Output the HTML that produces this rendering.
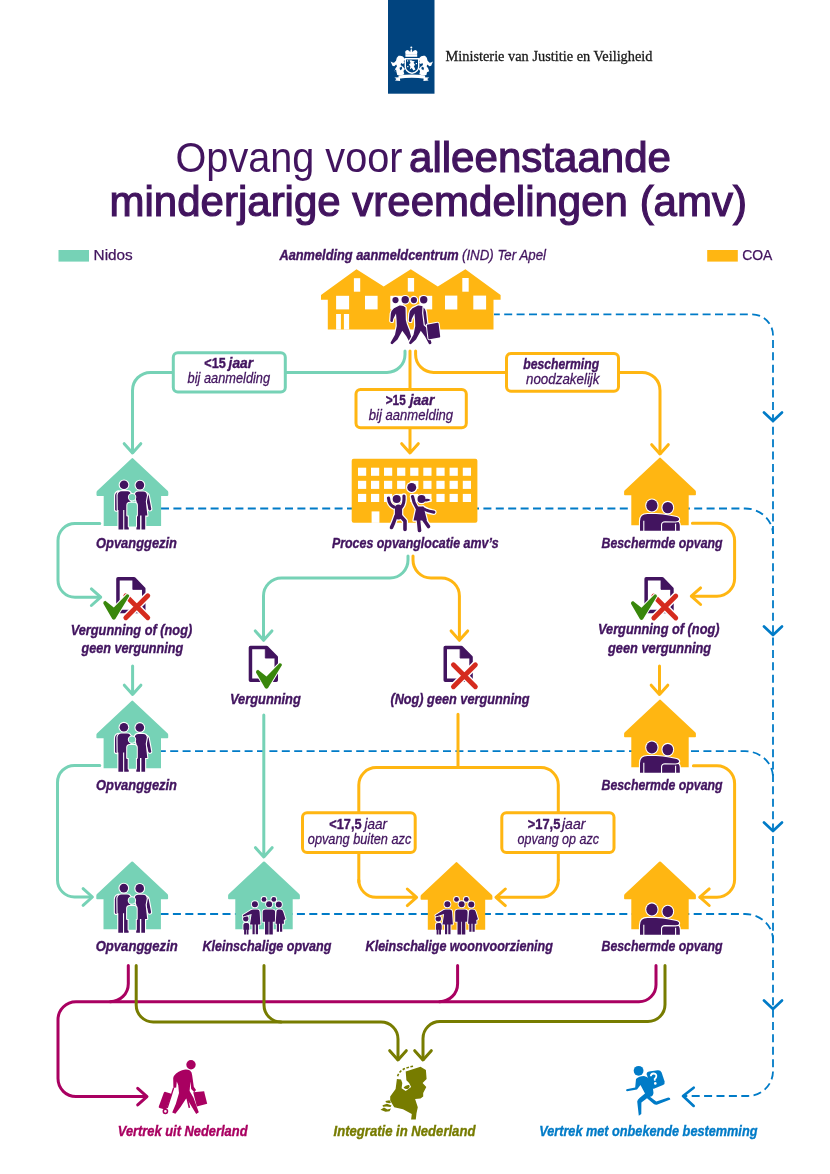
<!DOCTYPE html>
<html><head><meta charset="utf-8">
<style>
html,body{margin:0;padding:0;background:#fff;}
body{width:830px;height:1174px;overflow:hidden;}
svg{display:block;will-change:transform;}
text{font-family:"Liberation Sans",sans-serif;fill:#42145f;}
.bi{font-weight:bold;font-style:italic;font-size:15.5px;stroke:#42145f;stroke-width:0.4px;}
.it{font-style:italic;font-size:15px;stroke:#42145f;stroke-width:0.3px;}
.ln{fill:none;stroke-width:3;stroke-linecap:round;stroke-linejoin:round;}
.m{stroke:#76d2b6;}
.y{stroke:#ffb612;}
.mg{stroke:#a90061;}
.ol{stroke:#777c00;}
.ds{fill:none;stroke:#007bc7;stroke-width:1.8;stroke-dasharray:8 4.4;}
.ch{fill:none;stroke:#007bc7;stroke-width:2.7;stroke-linecap:round;stroke-linejoin:round;}
.box{fill:#fff;stroke-width:3;}
</style></head>
<body>
<svg width="830" height="1174" viewBox="0 0 830 1174">
<defs>
  <path id="house" d="M0,-0.3 Q0.4,-0.3 0.8,0.1 L35.2,32.4 Q35.9,33 35.9,34 V36.7 Q35.9,37.5 35.1,37.5 H28.7 V67.5 H-28.7 V37.5 H-35.1 Q-35.9,37.5 -35.9,36.7 V34 Q-35.9,33 -35.2,32.4 L-0.8,0.1 Q-0.4,-0.3 0,-0.3 Z"/>
</defs>

<!-- HEADER -->
<rect x="388" y="0" width="46.5" height="93.7" fill="#01447f"/>
<g id="crest" fill="#fff"></g>
<text x="445.5" y="61.1" style="font-family:'Liberation Serif',serif;font-size:15.2px;fill:#1a1a1a;stroke:#1a1a1a;stroke-width:0.3px" textLength="207" lengthAdjust="spacingAndGlyphs">Ministerie van Justitie en Veiligheid</text>

<!-- TITLE -->
<text x="175.5" y="172.3" style="font-size:42px" textLength="227" lengthAdjust="spacingAndGlyphs">Opvang voor</text>
<text x="409" y="172.4" style="font-size:42.5px;stroke:#42145f;stroke-width:1.2px" textLength="262" lengthAdjust="spacingAndGlyphs">alleenstaande</text>
<text x="109.5" y="215.6" style="font-size:42.5px;stroke:#42145f;stroke-width:1.2px" textLength="637.5" lengthAdjust="spacingAndGlyphs">minderjarige vreemdelingen (amv)</text>

<!-- LEGEND -->
<rect x="58.5" y="250" width="30.5" height="11.6" fill="#76d2b6"/>
<text x="93.6" y="260" style="font-size:14.4px;stroke:#42145f;stroke-width:0.25px" textLength="39.2" lengthAdjust="spacingAndGlyphs">Nidos</text>
<rect x="707.2" y="250" width="30.6" height="11.6" fill="#ffb612"/>
<text x="742.2" y="260" style="font-size:14.4px;stroke:#42145f;stroke-width:0.25px" textLength="30.2" lengthAdjust="spacingAndGlyphs">COA</text>
<text x="279.4" y="260" class="bi" textLength="179.3" lengthAdjust="spacingAndGlyphs">Aanmelding aanmeldcentrum</text>
<text x="462" y="260" class="it" textLength="84" lengthAdjust="spacingAndGlyphs">(IND) Ter Apel</text>

<!-- DASHED BLUE -->
<path class="ds" style="stroke-dashoffset:2.2" d="M494,314.3 H752 A21,21 0 0 1 773,335.3 V1071 A25,25 0 0 1 748,1096 H684"/>
<path class="ds" d="M161,508.5 H745 A28,26 0 0 1 773,534"/>
<path class="ds" style="stroke-dashoffset:2.7" d="M160.5,751.2 H745 A28,26 0 0 1 773,777"/>
<path class="ds" d="M160.5,914 H745 A28,26 0 0 1 773,940"/>
<path class="ch" d="M764,412.5 L773,421 L782,412.5"/>
<path class="ch" d="M764,626.5 L773,635 L782,626.5"/>
<path class="ch" d="M764,822.5 L773,831 L782,822.5"/>
<path class="ch" d="M764,1000.5 L773,1009 L782,1000.5"/>
<path class="ch" d="M693.7,1087.7 L683,1096 L693.7,1105.9"/>

<!-- MINT LINES -->
<path class="ln m" d="M405,351 V354.4 A18,18 0 0 1 387,372.4 H150.5 A18,18 0 0 0 132.5,390.4 V452"/>
<path class="ln m" d="M124.2,443.7 L132.5,453 L140.8,443.7"/>
<path class="ln m" d="M99.8,523.5 H75 A17,17 0 0 0 58,540.5 V580.2 A17,17 0 0 0 75,597.2 H100"/>
<path class="ln m" d="M91.4,588.9 L100.7,597.2 L91.4,605.5"/>
<path class="ln m" d="M132.6,666 V694 M124.3,685.2 L132.6,694.5 L140.9,685.2"/>
<path class="ln m" d="M99.8,765.4 H75 A17,17 0 0 0 57.5,782.4 V880 A17,17 0 0 0 74.5,897 H91.5"/>
<path class="ln m" d="M83.1,888.7 L92.4,897 L83.1,905.3"/>
<path class="ln m" d="M408,556 V560 A18,18 0 0 1 390,578 H281.5 A18,18 0 0 0 263.5,596 V639.5"/>
<path class="ln m" d="M255.3,630.9 L263.6,640.3 L271.9,630.9"/>
<path class="ln m" d="M263.8,715 V856.5 M255.5,847.7 L263.8,857 L272.1,847.7"/>

<!-- YELLOW LINES -->
<path class="ln y" d="M410,351 V452 M401.7,443.7 L410,453 L418.3,443.7"/>
<path class="ln y" d="M415.6,351 V354.4 A18,18 0 0 0 433.6,372.4 H642 A18,18 0 0 1 660,390.4 V453.5"/>
<path class="ln y" d="M651.7,444.7 L660,454 L668.3,444.7"/>
<path class="ln y" d="M692.4,523.2 H717 A17.6,17.6 0 0 1 734.6,540.8 V578.6 A17.6,17.6 0 0 1 717,596.2 H692"/>
<path class="ln y" d="M700.6,587.9 L691.3,596.2 L700.6,604.5"/>
<path class="ln y" d="M413,556 V560 A18,18 0 0 0 431,578 H441.4 A18,18 0 0 1 459.4,596 V639.5"/>
<path class="ln y" d="M451.1,630.9 L459.4,640.3 L467.7,630.9"/>
<path class="ln y" d="M659.5,666 V694 M651.2,685.2 L659.5,694.5 L667.8,685.2"/>
<path class="ln y" d="M693.4,765.8 H717 A17.6,17.6 0 0 1 734.6,783.4 V879.6 A17.6,17.6 0 0 1 717,897.2 H700"/>
<path class="ln y" d="M709.2,888.9 L699.9,897.2 L709.2,905.5"/>
<path class="ln y" d="M458,714.3 V767.6 M358.8,882 V785 A17.4,17.4 0 0 1 376.2,767.6 H540.9 A17.4,17.4 0 0 1 558.3,785 V880"/>
<path class="ln y" d="M358.8,880 A17.3,17.3 0 0 0 376.1,897.3 H415.6 M407.3,889 L416.6,897.3 L407.3,905.6"/>
<path class="ln y" d="M558.3,880 A17.3,17.3 0 0 1 541,897.3 H497 M505.3,889 L496,897.3 L505.3,905.6"/>

<!-- MAGENTA / OLIVE -->
<path class="ln mg" d="M128.3,965.5 V983.7 A18,18 0 0 1 110.3,1001.7 H76 A18,18 0 0 0 58,1019.7 V1078.6 A18,18 0 0 0 76,1096.6 H146"/>
<path class="ln mg" d="M137.7,1088.3 L147,1096.6 L137.7,1104.9"/>
<path class="ln mg" d="M110.3,1001.7 H639 A17,17 0 0 0 656,984.7 V965.5"/>
<path class="ln mg" d="M457.6,965.5 V983.7 A18,18 0 0 1 439.6,1001.7"/>
<path class="ln ol" d="M136.2,965.5 V1005 A17,17 0 0 0 153.2,1022 H381 A17,17 0 0 1 398,1039 V1059.5"/>
<path class="ln ol" d="M264,965.5 V1005 A17,17 0 0 0 281,1022"/>
<path class="ln ol" d="M665,965.5 V1004.5 A17,17 0 0 1 648,1021.5 H440 A17,17 0 0 0 423,1038.5 V1059.5"/>
<path class="ln ol" d="M389.7,1050.7 L398,1060 L406.3,1050.7 M414.7,1050.7 L423,1060 L431.3,1050.7"/>

<!-- BOXES -->
<rect class="box" stroke="#76d2b6" x="173.3" y="352.8" width="112" height="39.3" rx="4.5"/>
<rect class="box" stroke="#ffb612" x="356" y="389.4" width="110.3" height="38.4" rx="4.5"/>
<rect class="box" stroke="#ffb612" x="506.5" y="353.5" width="112" height="37.7" rx="4.5"/>
<rect class="box" stroke="#ffb612" x="302.5" y="812.8" width="112.7" height="39.7" rx="4.5"/>
<rect class="box" stroke="#ffb612" x="501.8" y="812.8" width="112.2" height="39.7" rx="4.5"/>

<text x="204.3" y="368.3" style="font-size:15px;font-weight:bold;stroke:#42145f;stroke-width:0.4px" textLength="21.5" lengthAdjust="spacingAndGlyphs">&lt;15</text>
<text x="228.6" y="368.3" class="bi" textLength="24.5" lengthAdjust="spacingAndGlyphs">jaar</text>
<text x="187.6" y="383.3" class="it" textLength="82.5" lengthAdjust="spacingAndGlyphs">bij aanmelding</text>
<text x="385.7" y="404.5" style="font-size:15px;font-weight:bold;stroke:#42145f;stroke-width:0.4px" textLength="20" lengthAdjust="spacingAndGlyphs">&gt;15</text>
<text x="409.8" y="404.5" class="bi" textLength="24.5" lengthAdjust="spacingAndGlyphs">jaar</text>
<text x="368.8" y="419.5" class="it" textLength="84.3" lengthAdjust="spacingAndGlyphs">bij aanmelding</text>
<text x="523.3" y="368.5" class="bi" textLength="75.8" lengthAdjust="spacingAndGlyphs">bescherming</text>
<text x="526" y="384.3" class="it" textLength="73.5" lengthAdjust="spacingAndGlyphs">noodzakelijk</text>

<text x="329.3" y="829.1" style="font-size:15px;font-weight:bold;stroke:#42145f;stroke-width:0.4px" textLength="32.2" lengthAdjust="spacingAndGlyphs">&lt;17,5</text>
<text x="364.5" y="829.1" class="it" textLength="22.6" lengthAdjust="spacingAndGlyphs">jaar</text>
<text x="307.8" y="843.6" class="it" textLength="103.5" lengthAdjust="spacingAndGlyphs">opvang buiten azc</text>
<text x="527.8" y="829.1" style="font-size:15px;font-weight:bold;stroke:#42145f;stroke-width:0.4px" textLength="32.5" lengthAdjust="spacingAndGlyphs">&gt;17,5</text>
<text x="562" y="829.1" class="it" textLength="23.4" lengthAdjust="spacingAndGlyphs">jaar</text>
<text x="517.6" y="843.6" class="it" textLength="81.3" lengthAdjust="spacingAndGlyphs">opvang op azc</text>

<!-- TOP HOUSES -->
<path fill="#ffb612" d="M321,295 L356.5,269.3 L383.7,286.5 L410.8,269.3 L437.8,286.5 L465.4,269.3 L500.6,295 V299.7 H493.5 V329.4 H327.8 V299.7 H321 Z"/>

<!-- ROW HOUSES -->
<use href="#house" x="132.4" y="458.4" fill="#76d2b6"/>
<use href="#house" x="660" y="457.8" fill="#ffb612"/>
<rect x="351.7" y="458.7" width="125.7" height="64.1" rx="2" fill="#ffb612"/>
<use href="#house" x="132.3" y="700.8" fill="#76d2b6"/>
<use href="#house" x="660" y="699.8" fill="#ffb612"/>
<use href="#house" x="132.2" y="861.7" fill="#76d2b6"/>
<use href="#house" x="264" y="861.7" fill="#76d2b6"/>
<use href="#house" x="456.5" y="862.3" fill="#ffb612"/>
<use href="#house" x="660" y="861.7" fill="#ffb612"/>


<!-- TOP HOUSE WINDOWS -->
<g fill="#fff">
  <rect x="353.9" y="278.2" width="6.3" height="13.5"/>
  <rect x="407.8" y="278" width="6.3" height="13.6"/>
  <rect x="462.3" y="278" width="6.4" height="13.7"/>
  <rect x="336.1" y="295.8" width="13" height="13.6"/>
  <rect x="365" y="295.8" width="12.6" height="13.6"/>
  <rect x="390.3" y="295.8" width="12.8" height="13.6"/>
  <rect x="419.4" y="295.8" width="12.8" height="13.6"/>
  <rect x="445" y="295.6" width="12.3" height="13.9"/>
  <rect x="473.3" y="295.6" width="12.8" height="13.9"/>
  <rect x="336.1" y="314" width="4.8" height="15.6"/>
  <rect x="343.9" y="314" width="5.2" height="15.6"/>
</g>
<!-- WALKERS -->
<defs>
 <path id="wk" d="M399.5,305.5 Q403.5,305.2 405.5,307.5 L405.8,320 L406.8,324 L409.5,331 L413,343 Q412,344.8 410.5,344 L406.5,336.5 L402.3,330.8 L397.5,339.5 L392.3,344.3 Q390.3,344 390.6,342.6 L395,334.8 L396.8,326 L396.6,320.4 L396,313.5 L393.2,319 L392.7,321.8 Q390.6,322.2 390.3,321 L390.8,313.8 Q391.5,310 394,308.2 Z"/>
</defs>
<g fill="#42145f" stroke="#fff" stroke-width="2.4" paint-order="stroke" stroke-linejoin="round">
 <circle cx="395.5" cy="300.1" r="3.1"/><circle cx="413.9" cy="300.1" r="3.1"/>
 <circle cx="405.2" cy="299.8" r="3.7"/><circle cx="423.7" cy="299.8" r="3.7"/>
 <use href="#wk"/>
 <g transform="translate(18.5,0)"><use href="#wk"/></g>
 <path d="M423.6,307.5 Q425.5,309 426,312 L427.3,323.5 L429,325.2 L427,326.5 L424.8,324.5 L423.3,313 Z"/>
 <path d="M426.8,324.8 L437.4,322.8 Q438.4,322.7 438.6,323.7 L440.2,336.4 Q440.3,337.4 439.3,337.6 L429.6,339.3 Q428.6,339.4 428.4,338.4 Z" stroke-width="2"/>
</g>

<!-- FAMILY ICON -->
<defs>
 <g id="family">
  <g fill="#42145f" stroke="#fff" stroke-width="2.2" paint-order="stroke" stroke-linejoin="round">
   <circle cx="-8.4" cy="26.4" r="4.3"/>
   <circle cx="7.5" cy="26.7" r="4.3"/>
   <path d="M-17.3,37.5 Q-17.2,34 -14,33 L-13.4,51 Q-13.5,52.3 -15.4,52.3 Q-17.3,52.3 -17.3,51 Z"/>
   <path d="M-14.8,36.5 Q-14.2,32.8 -10.8,32.8 H-5 Q-1.8,33 -1.4,36.2 L-2.3,51.6 H-3.6 V71 H-8.1 V51.6 H-9.2 V71 H-13.9 V51.6 H-14.6 Z"/>
   <path d="M13.5,35 Q15.8,34.6 16.5,37.8 L18.9,50.4 Q19,52 17.4,52 Q16.3,52 16,50.8 L13.4,40 Z"/>
   <path d="M2.3,37 Q2.6,33.2 6.3,33.1 H10.8 Q14.3,33.3 14.6,36.8 L13.4,43 L15,57.2 H12.8 V71 H9.1 V57.2 H7.7 V71 H4 V57.2 H2.6 L4.2,43 Z"/>
  </g>
  <g fill="#76d2b6" stroke="#fff" stroke-width="2" paint-order="stroke" stroke-linejoin="round">
   <circle cx="-0.3" cy="38.8" r="3.2"/>
   <path d="M-5.1,46.8 Q-5.1,44.3 -2.6,44.3 H2.3 Q4.5,44.3 4.5,46.8 V57.2 H3.6 V68 H-3.6 V57.2 H-5.1 Z"/>
  </g>
 </g>
 <g id="hug">
  <g fill="#42145f" stroke="#fff" stroke-width="2.2" paint-order="stroke" stroke-linejoin="round">
   <ellipse cx="-8.1" cy="47.7" rx="5.6" ry="6"/>
   <ellipse cx="7.8" cy="49.8" rx="5.3" ry="5.7"/>
   <path d="M1,73 V67 Q1,63.2 5,63.2 H15.5 Q19.8,63.4 19.8,68 V73 Z"/>
   <path d="M-20,73 V63.5 Q-20,56.2 -12.5,56.2 H-4 Q3,56.4 9,57.8 L16.5,59.3 Q19.6,60.2 19,62.3 Q18.3,63.6 15.5,63.6 L5,63.4 Q1.2,63.6 1,67 V73 Z"/>
  </g>
  <path d="M-16.2,63 V73.5 M15.6,66 V73.5" stroke="#fff" stroke-width="1.1"/>
 </g>
 <g id="group">
  <g fill="#42145f" stroke="#fff" stroke-width="1.8" paint-order="stroke" stroke-linejoin="round">
   <circle cx="0" cy="37.7" r="2.4"/><circle cx="9.8" cy="37.7" r="2.4"/>
   <circle cx="-18.2" cy="57" r="2.7"/>
   <path d="M-20.6,63.3 Q-20.6,61.3 -18.5,61.3 H-16.8 Q-14.8,61.3 -14.8,63.3 V68.1 H-15.5 V72.8 H-17.4 V68.1 H-18 V72.8 H-19.9 V68.1 H-20.6 Z"/>
   <circle cx="-9.1" cy="42.5" r="3"/>
   <path d="M-11,47.9 H-6.5 Q-4.7,47.9 -4.4,50 L-3.6,62.7 H-6 V72.5 H-8.2 V62.7 H-9.3 V72.5 H-11.5 V62.7 H-14 L-12.4,52.2 L-20.6,54.8 Q-21.6,54 -20.8,53.3 L-12.8,48.4 Z"/>
   <circle cx="5.1" cy="42.5" r="3"/>
   <path d="M-1.3,50.5 Q-1.3,47.9 1.5,47.9 H8.3 Q11.1,47.9 11.1,50.5 V60 H8.8 V72.8 H5.3 V60 H4.6 V72.8 H1 V60 H-1.3 Z"/>
   <circle cx="14.8" cy="42.8" r="3"/>
   <path d="M12.5,50 Q12.5,47.9 14.5,47.9 H16.5 Q18.6,47.9 19.2,50 L21.5,57.6 L19.8,58.2 L20,62 H18.2 V70.1 H16 V62 H15 V70.1 H12.8 V62 H11.5 Z"/>
  </g>
 </g>
 <g id="doc">
  <path d="M1.75,34.45 V1.75 H17.9 L27.55,11.6 V34.45 Z" fill="none" stroke="#42145f" stroke-width="3.5" stroke-linejoin="round"/>
  <path d="M16.6,1.5 V12.4 H28 Z" fill="#42145f" stroke="#42145f" stroke-width="0.8" stroke-linejoin="round"/>
 </g>
 <g id="check">
  <path d="M0,9.7 Q-0.5,7.7 2,7 L10.5,13.7 L23.5,0.4 Q25.8,0 26,2.2 L12,25.2 Q10.5,26.7 9,25.2 Z" fill="#39870c" stroke="#fff" stroke-width="2" paint-order="stroke" stroke-linejoin="round"/>
 </g>
 <g id="cross">
  <path d="M-11,-11 L11,11 M11,-11 L-11,11" stroke="#fff" stroke-width="7.6" stroke-linecap="round"/>
  <path d="M-11,-11 L11,11 M11,-11 L-11,11" stroke="#d52b1e" stroke-width="4.8" stroke-linecap="round"/>
 </g>
</defs>

<use href="#family" x="132.4" y="458.4"/>
<use href="#family" x="132.3" y="700.8"/>
<use href="#family" x="132.2" y="861.7"/>
<use href="#hug" x="660" y="457.8"/>
<use href="#hug" x="660" y="699.8"/>
<use href="#hug" x="660" y="861.7"/>
<use href="#group" x="264" y="861.7"/>
<use href="#group" x="456.5" y="861.7"/>

<!-- BUILDING WINDOWS -->
<g fill="#fff">
 <rect x="358" y="467.7" width="8.2" height="8.1"/><rect x="371" y="467.7" width="8.2" height="8.1"/><rect x="384" y="467.7" width="8.2" height="8.1"/><rect x="397.1" y="467.7" width="8.2" height="8.1"/><rect x="410.2" y="467.7" width="8.2" height="8.1"/><rect x="423.3" y="467.7" width="8.2" height="8.1"/><rect x="436.4" y="467.7" width="8.2" height="8.1"/><rect x="449.6" y="467.7" width="8.2" height="8.1"/><rect x="462.8" y="467.7" width="8.2" height="8.1"/>
 <rect x="358" y="480.8" width="8.2" height="8.1"/><rect x="371" y="480.8" width="8.2" height="8.1"/><rect x="384" y="480.8" width="8.2" height="8.1"/><rect x="397.1" y="480.8" width="8.2" height="8.1"/><rect x="410.2" y="480.8" width="8.2" height="8.1"/><rect x="423.3" y="480.8" width="8.2" height="8.1"/><rect x="436.4" y="480.8" width="8.2" height="8.1"/><rect x="449.6" y="480.8" width="8.2" height="8.1"/><rect x="462.8" y="480.8" width="8.2" height="8.1"/>
 <rect x="358" y="493.9" width="8.2" height="8.1"/><rect x="371" y="493.9" width="8.2" height="8.1"/><rect x="384" y="493.9" width="8.2" height="8.1"/><rect x="397.1" y="493.9" width="8.2" height="8.1"/><rect x="410.2" y="493.9" width="8.2" height="8.1"/><rect x="423.3" y="493.9" width="8.2" height="8.1"/><rect x="436.4" y="493.9" width="8.2" height="8.1"/><rect x="449.6" y="493.9" width="8.2" height="8.1"/><rect x="462.8" y="493.9" width="8.2" height="8.1"/>
 <rect x="371.6" y="511.4" width="7.8" height="11.5"/>
</g>
<!-- KIDS -->
<g>
 <g stroke="#fff" fill="none" stroke-linecap="round" stroke-linejoin="round">
  <circle cx="411.7" cy="487.4" r="4.5" stroke-width="2.4"/>
  <circle cx="396.7" cy="499" r="4" stroke-width="2.4"/>
  <circle cx="421.5" cy="499" r="4" stroke-width="2.4"/>
  <path d="M394,507 Q389,505 388.5,498" stroke-width="5.6"/>
  <path d="M401.5,507 Q404.5,504 404,496" stroke-width="5.6"/>
  <path d="M398.5,508 V516" stroke-width="9.6"/>
  <path d="M396,516 L393.5,523 L391.5,527.5" stroke-width="6"/>
  <path d="M400.5,516 L405,521 L405,529.5" stroke-width="6"/>
  <path d="M417,508 Q413.5,503 412.5,496.5" stroke-width="5.6"/>
  <path d="M423,508.5 Q428,511.5 433.8,512.2" stroke-width="5.6"/>
  <path d="M418.5,520 L419.5,530.5" stroke-width="6"/>
  <path d="M424,520 L428.5,526.5" stroke-width="6"/>
  <path d="M416.5,506.5 H423.5 L427,520.6 H413.5 Z" stroke-width="2.4"/>
  <path d="M424.5,499.2 Q428,498.2 430.6,500 Q428,502 424.5,501.2 Z" stroke-width="2.4"/>
 </g>
 <g fill="#42145f"><circle cx="411.7" cy="487.4" r="4.5"/><circle cx="396.7" cy="499" r="4"/><circle cx="421.5" cy="499" r="4"/>
  <path d="M416.5,506.5 H423.5 L427,520.6 H413.5 Z"/><path d="M424.5,499.2 Q428,498.2 430.6,500 Q428,502 424.5,501.2 Z"/></g>
 <g stroke="#42145f" fill="none" stroke-linecap="round" stroke-linejoin="round">
  <path d="M394,507 Q389,505 388.5,498" stroke-width="3.2"/>
  <path d="M401.5,507 Q404.5,504 404,496" stroke-width="3.2"/>
  <path d="M398.5,508 V516" stroke-width="7.2"/>
  <path d="M396,516 L393.5,523 L391.5,527.5" stroke-width="3.6"/>
  <path d="M400.5,516 L405,521 L405,529.5" stroke-width="3.6"/>
  <path d="M417,508 Q413.5,503 412.5,496.5" stroke-width="3.2"/>
  <path d="M423,508.5 Q428,511.5 433.8,512.2" stroke-width="3.2"/>
  <path d="M418.5,520 L419.5,530.5" stroke-width="3.6"/>
  <path d="M424,520 L428.5,526.5" stroke-width="3.6"/>
 </g>
</g>

<!-- DOCS -->
<use href="#doc" x="116.2" y="577"/>
<use href="#cross" x="136.8" y="606.8"/>
<use href="#check" x="103.3" y="593.8"/>
<use href="#doc" x="248.7" y="645.7"/>
<use href="#check" x="256" y="662.8"/>
<use href="#doc" x="443.5" y="645.7"/>
<use href="#cross" x="464.4" y="675.7"/>
<use href="#doc" x="644.4" y="577"/>
<use href="#cross" x="664.8" y="607"/>
<use href="#check" x="631" y="594"/>
<!-- TRAVELER -->
<g fill="#a90061">
 <circle cx="191" cy="1064.7" r="4.7"/>
 <path d="M182,1070.2 Q186.8,1068.8 190,1070.6 Q192,1072 192.2,1075.5 L193.8,1086.8 L196,1090 L194.3,1092.2 L191.2,1089 L190.4,1081.5 L189.6,1091 Q192,1095 193.6,1098 L198.8,1112.2 L196.2,1114 L188.6,1101.5 L186.3,1098.2 L180.6,1107 L175.4,1113.8 L172.2,1112.6 L175.8,1104 L179,1093 L178.2,1085 L176.8,1081.6 L176.2,1087.4 L173.4,1088 L173.2,1078 Q174.6,1072.6 182,1070.2 Z"/>
 <path d="M186.2,1097.5 L188.6,1108 L190.2,1107.7 L188.2,1099 Z"/>
 <path d="M158.8,1106.5 L163.8,1092.8 Q164.3,1091.6 165.6,1091.9 L170.6,1093.6 Q171.8,1094 171.4,1095.3 L166.5,1108.8 Q166,1110 164.8,1109.6 L159.6,1108 Q158.4,1107.6 158.8,1106.5 Z"/>
 <path d="M193.2,1092.2 L204.1,1091.2 L207.2,1103.7 L196.8,1106.6 Z"/>
</g>
<path d="M173.6,1088 L167.2,1108" stroke="#a90061" stroke-width="1.3"/>
<circle cx="165.4" cy="1111.3" r="2.1" fill="#fff" stroke="#a90061" stroke-width="1.5"/>

<!-- NL MAP -->
<g fill="#777c00">
 <path d="M405.7,1071.5 L420.5,1066.7 L425.9,1070.1 L426.6,1078.9 L422.6,1082.9 L426.3,1087 L423.2,1093.1 L423.2,1096.4 L420.5,1098.5 L415.1,1099.1 L417.8,1107.2 L416.5,1113.3 L415.8,1119.4 L411.1,1119.4 L411.8,1114 L403,1109.3 L394.2,1107.2 L390.2,1100.5 L390.2,1096.4 L395.6,1089 L396.9,1078.9 L401,1079.6 L402.3,1082.9 L401.6,1088.3 L405.7,1091 L411.1,1087 L409.1,1082.9 L406.4,1080.2 Z"/>
 <path d="M403.5,1087.5 Q406,1084.5 409,1085 Q410.5,1086.5 408.5,1088.6 Q405.5,1090 403.5,1087.5 Z"/>
 <path d="M380.5,1109.8 L384,1107.5 L387.5,1109.5 L391,1108.5 L389.5,1111.3 L385.5,1111.8 Z"/>
 <path d="M382.5,1105.2 L387,1103.8 L391.5,1105.5 L390.5,1107 L386.5,1106.5 L383,1106.8 Z"/>
 <path d="M385.5,1101 L389.5,1100.2 L391,1102.5 L389.5,1103.3 L386,1102.5 Z"/>
</g>
<path d="M397.6,1076.2 Q400,1068 414.5,1066.1" fill="none" stroke="#777c00" stroke-width="1.6" stroke-dasharray="2.6 1.6"/>

<!-- RUNNER -->
<g fill="#007bc7">
 <circle cx="638.6" cy="1070.8" r="4.9"/>
 <path d="M646.5,1074 Q646.8,1072 649,1071.6 L657.5,1070.2 Q660.5,1069.8 661.6,1072.6 L664.6,1081.4 Q665.2,1083.8 663,1085 L654.5,1088.6 Q652.4,1089.4 651.4,1087.4 Z"/>
 <path d="M636,1079 Q639,1076 644,1076 Q650,1077 652.5,1085 L653.5,1093 Q653,1096.5 650,1096.8 L656.3,1101.5 L668.3,1097.5 Q670.5,1097.5 670.3,1099.5 L656.8,1104.8 Q655,1105 653.5,1103.7 L647,1098.2 L641.4,1102.5 L641.3,1114 L638.8,1115.8 L637.2,1101.5 Q637.5,1099.5 639.5,1098 L645,1093.5 L640.5,1085 L637,1089.5 L627,1091.3 Q625.3,1090.6 626.5,1089.3 L635.2,1087.4 Z"/>
</g>
<path d="M650.8,1076.2 Q651,1073.4 653.8,1073.5 Q656.9,1073.9 656.2,1076.9 Q655.6,1078.3 654.7,1079 L654.9,1080.6" fill="none" stroke="#fff" stroke-width="1.8"/>
<circle cx="655.3" cy="1083.4" r="1.3" fill="#fff"/>

<!-- CREST -->
<g fill="#fff">
 <circle cx="411.3" cy="47.6" r="1"/>
 <path d="M405.6,54.2 Q404.3,50.3 407.4,49.9 Q409.4,50.2 410.2,52.2 Q410.5,49.1 411.3,49.1 Q412.1,49.1 412.4,52.2 Q413.2,50.2 415.2,49.9 Q418.3,50.3 417,54.2 Z"/>
 <rect x="405.4" y="54.2" width="11.8" height="2.6"/>
 <path d="M404.6,58 H419.4 V66.5 Q419.4,72.3 412,74 Q404.6,72.3 404.6,66.5 Z"/>
 <path id="lionL" d="M398.6,55.8 Q402.6,55.2 403.8,57.6 L405.3,59.8 L403.6,60.9 L404.6,62.8 L402.9,63.9 L401.1,63 L400.6,65 L403,66.8 L404.9,69 L403.5,71 L404.3,74.2 L401,75.6 L397.2,75.1 L396.6,72.2 L394.4,71.2 L395.5,68.2 L397,66.2 L396.2,64.4 L394.2,66.3 Q392,66.4 391.6,63.7 L390.6,61.4 L392.6,62.4 L394,62.8 L396,60.8 L396.8,57.8 Z"/>
 <path d="M398.6,55.8 Q402.6,55.2 403.8,57.6 L405.3,59.8 L403.6,60.9 L404.6,62.8 L402.9,63.9 L401.1,63 L400.6,65 L403,66.8 L404.9,69 L403.5,71 L404.3,74.2 L401,75.6 L397.2,75.1 L396.6,72.2 L394.4,71.2 L395.5,68.2 L397,66.2 L396.2,64.4 L394.2,66.3 Q392,66.4 391.6,63.7 L390.6,61.4 L392.6,62.4 L394,62.8 L396,60.8 L396.8,57.8 Z" transform="matrix(-1,0,0,1,823.6,0)"/>
 <path d="M398.5,75.6 Q411.8,73.4 425.1,75.6 V78.8 Q411.8,76.6 398.5,78.8 Z"/>
 <path d="M394.4,77.6 L399.8,77.2 L400.2,80.9 L395,80.6 L396.4,79.1 Z"/>
 <path d="M429.2,77.6 L423.8,77.2 L423.4,80.9 L428.6,80.6 L427.2,79.1 Z"/>
</g>
<g fill="#01447f">
 <path d="M406,59.4 H418 V66.4 Q418,71 412,72.6 Q406,71 406,66.4 Z"/>
 <path d="M393.5,71.5 L396,69.5 L396.5,72 Z"/>
 <path d="M399.5,67.8 L401.8,66.6 L402.2,69 L400.2,70.2 Z"/>
 <path d="M424.1,67.8 L421.8,66.6 L421.4,69 L423.4,70.2 Z"/>
</g>
<g fill="#fff">
 <path d="M409.5,60.5 Q411.5,59.8 412.8,61 L414.8,61.2 L413.6,62.8 L415.2,65 L413.8,66 L415.4,69.4 L413.4,70.4 L411.8,68 L409.8,69.6 L410.4,66.6 L409,64.4 L410.6,63 Z"/>
 <rect x="407" y="60.3" width="1.2" height="1.2"/><rect x="415.8" y="63" width="1.2" height="1.2"/><rect x="407.2" y="66" width="1.2" height="1.2"/>
</g>

<!-- LABELS -->
<text x="96.0" y="547.6" class="bi" textLength="81.0" lengthAdjust="spacingAndGlyphs">Opvanggezin</text>
<text x="331.9" y="547.6" class="bi" textLength="166.7" lengthAdjust="spacingAndGlyphs">Proces opvanglocatie amv’s</text>
<text x="601.5" y="547.6" class="bi" textLength="121.0" lengthAdjust="spacingAndGlyphs">Beschermde opvang</text>
<text x="70.7" y="634.7" class="bi" textLength="121.5" lengthAdjust="spacingAndGlyphs">Vergunning of (nog)</text>
<text x="81.5" y="652.8" class="bi" textLength="101.7" lengthAdjust="spacingAndGlyphs">geen vergunning</text>
<text x="598.0" y="634.2" class="bi" textLength="121.5" lengthAdjust="spacingAndGlyphs">Vergunning of (nog)</text>
<text x="608.0" y="652.6" class="bi" textLength="103.2" lengthAdjust="spacingAndGlyphs">geen vergunning</text>
<text x="230.0" y="704.4" class="bi" textLength="70.8" lengthAdjust="spacingAndGlyphs">Vergunning</text>
<text x="390.4" y="704.4" class="bi" textLength="139.2" lengthAdjust="spacingAndGlyphs">(Nog) geen vergunning</text>
<text x="96.0" y="790" class="bi" textLength="81.0" lengthAdjust="spacingAndGlyphs">Opvanggezin</text>
<text x="601.5" y="790" class="bi" textLength="121.0" lengthAdjust="spacingAndGlyphs">Beschermde opvang</text>
<text x="95.7" y="950.5" class="bi" textLength="82.1" lengthAdjust="spacingAndGlyphs">Opvanggezin</text>
<text x="202.4" y="950.5" class="bi" textLength="129.0" lengthAdjust="spacingAndGlyphs">Kleinschalige opvang</text>
<text x="365.6" y="950.7" class="bi" textLength="187.3" lengthAdjust="spacingAndGlyphs">Kleinschalige woonvoorziening</text>
<text x="601.5" y="950.5" class="bi" textLength="121.0" lengthAdjust="spacingAndGlyphs">Beschermde opvang</text>

<text x="117.8" y="1136" class="bi" style="fill:#a90061;stroke:#a90061" textLength="129.7" lengthAdjust="spacingAndGlyphs">Vertrek uit Nederland</text>
<text x="333.5" y="1136" class="bi" style="fill:#777c00;stroke:#777c00" textLength="141.9" lengthAdjust="spacingAndGlyphs">Integratie in Nederland</text>
<text x="539.2" y="1136" class="bi" style="fill:#007bc7;stroke:#007bc7" textLength="218.2" lengthAdjust="spacingAndGlyphs">Vertrek met onbekende bestemming</text>

</svg>
</body></html>
